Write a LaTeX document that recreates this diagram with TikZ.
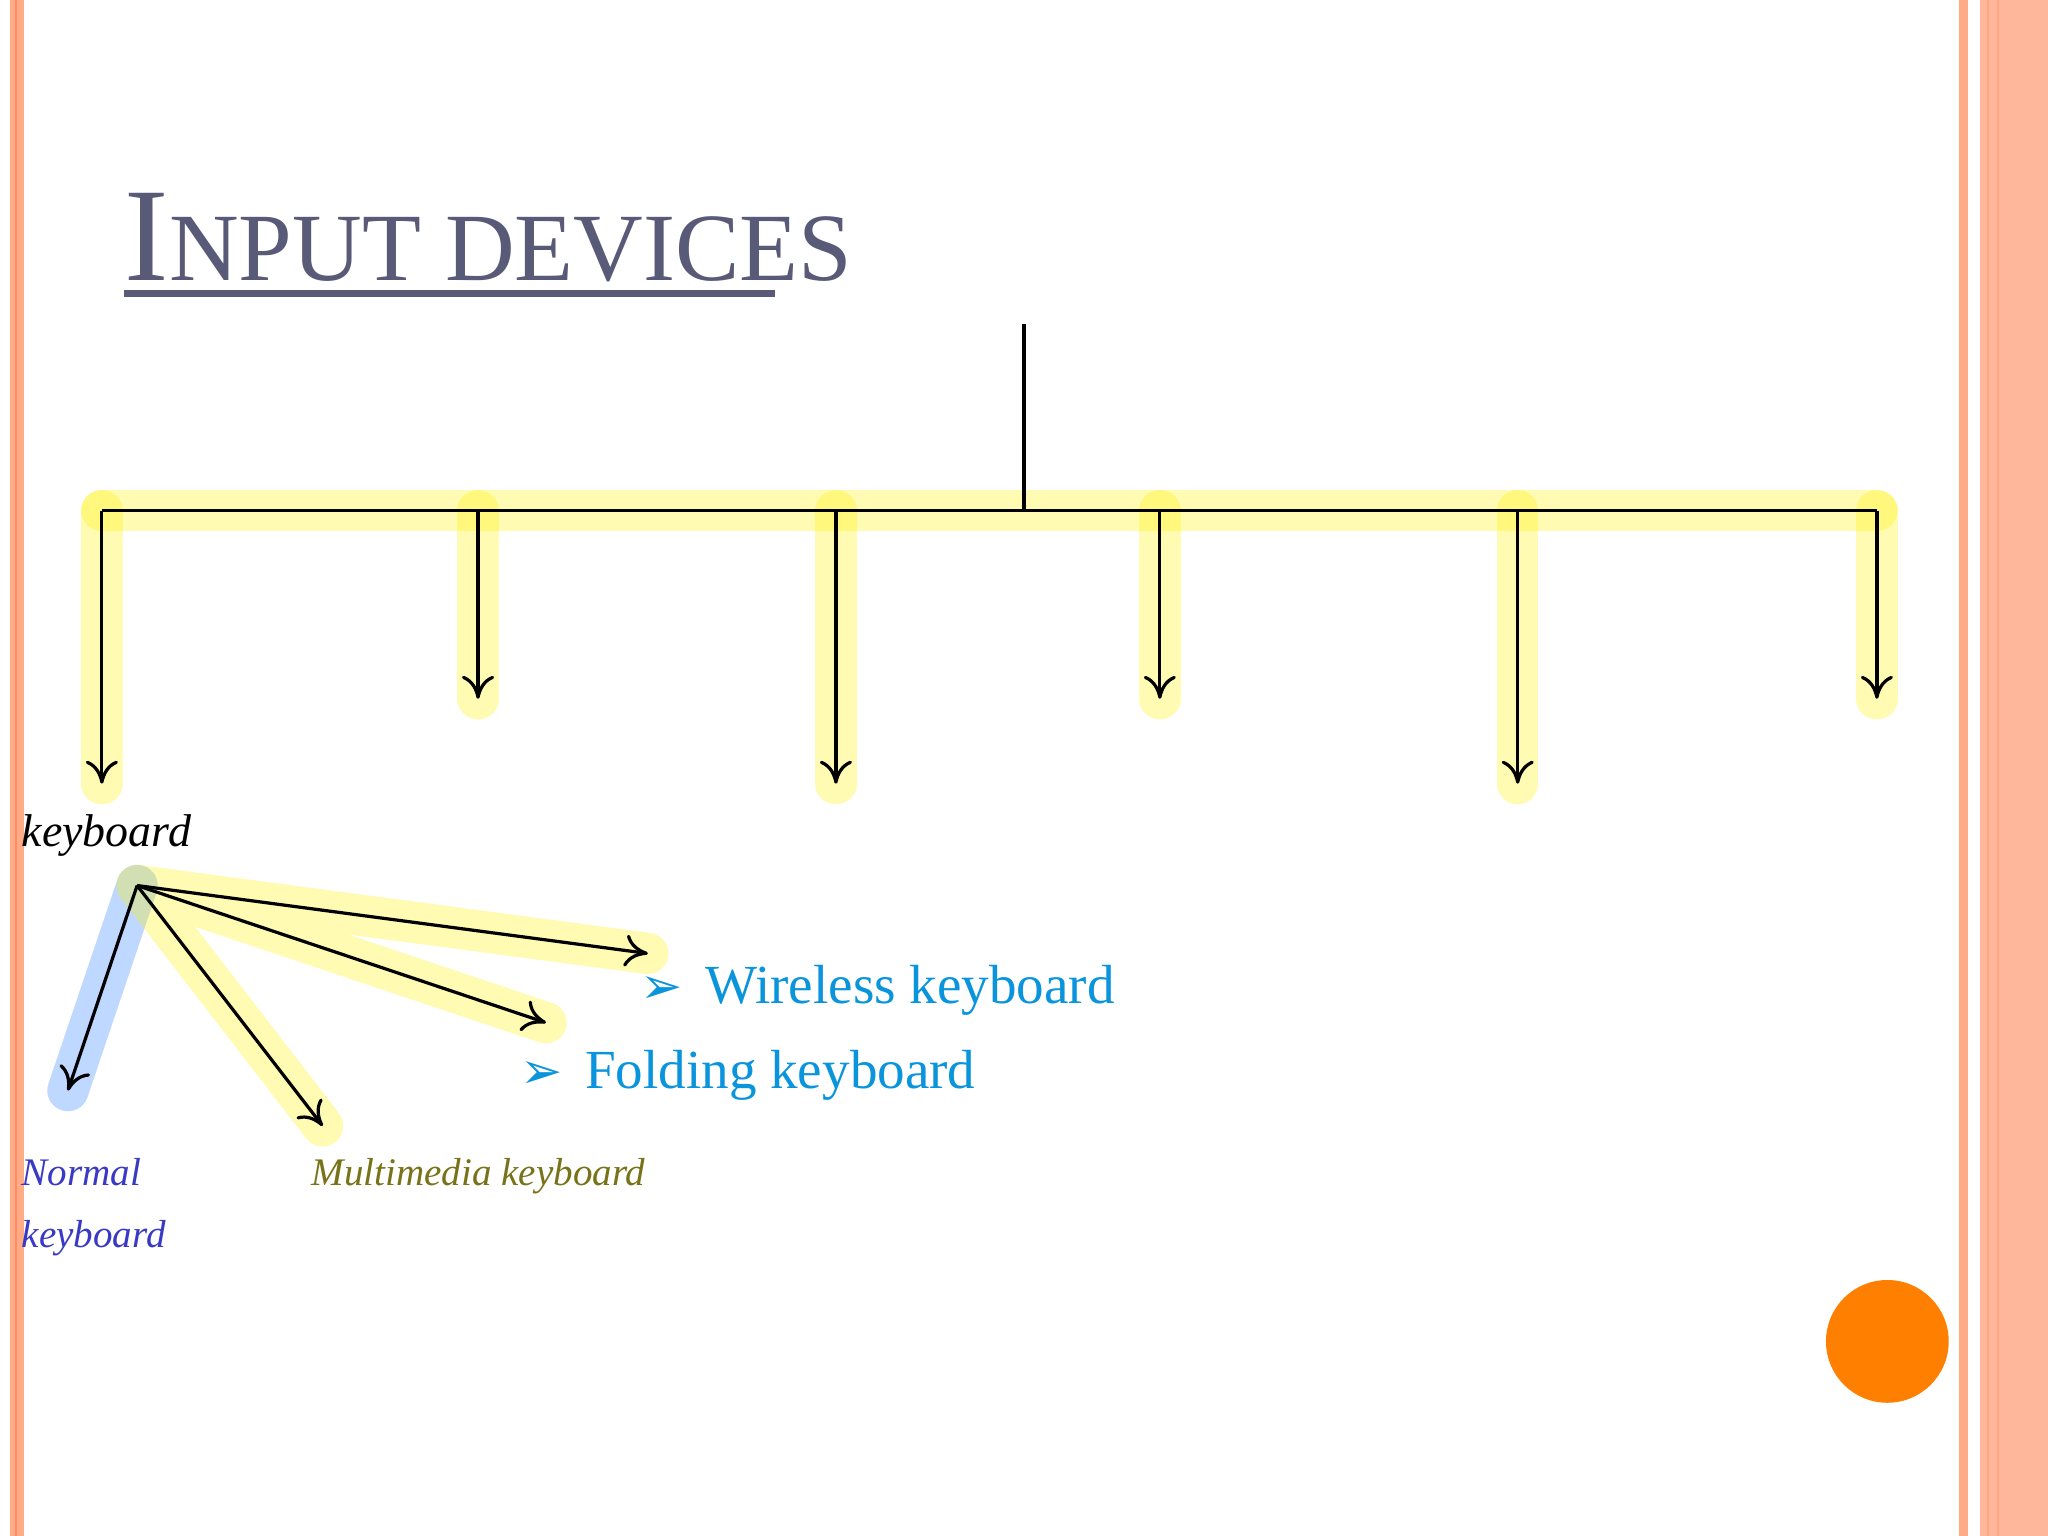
\documentclass[tikz,border=0pt]{standalone}
\usepackage{fontspec}
\usetikzlibrary{arrows.meta}
\setmainfont{Liberation Serif}
\newfontfamily\dejavu{DejaVu Sans}
\begin{document}
\begin{tikzpicture}[x=0.01cm,y=-0.01cm,
  glow/.style={line width=9pt,yellow,opacity=0.3,line cap=round},
  bluglow/.style={line width=9pt,blue!60!cyan,opacity=0.25,line cap=round},
  arr/.style={-{To[length=5pt,width=7pt]},black,line width=0.7pt},
  cy/.style={text=cyan!80!blue,font=\fontsize{12}{14}\selectfont,anchor=west,inner sep=0}]
\useasboundingbox (0,0) rectangle (1568,1176);
\fill[white] (0,0) rectangle (1568,1176);
% borders
\fill[orange!30!pink] (8,0) rectangle (18,1176);
\draw[orange!50!red!60,line width=0.4pt] (12,0)--(12,1176);
\fill[orange!30!pink] (1500,0) rectangle (1507,1176);
\fill[orange!25!pink!90] (1516,0) rectangle (1568,1176);
\draw[orange!60!red!50,line width=0.4pt] (1522,0)--(1522,1176) (1530,0)--(1530,1176);
% title
\node[anchor=base west,inner sep=0,text=black!60!blue!30!gray] (title) at (95,215) {\fontsize{29}{34}\selectfont I\fontsize{21}{34}\selectfont NPUT DEVICES};
\draw[black!60!blue!30!gray,line width=1.5pt] (95,225)--(593,225);
% glow
\draw[glow] (78,391)--(1437,391);
\foreach \x/\y in {78/600,366/535,640/600,888/535,1162/600,1437/535} \draw[glow] (\x,391)--(\x,\y);
\coordinate (top) at (784,248);
\coordinate (mid) at (784,391);
\coordinate (L) at (78,391);
\coordinate (R) at (1437,391);
\draw[line width=0.7pt] (top)--(mid) (L)--(R);
\foreach \x/\y [count=\i] in {78/600,366/535,640/600,888/535,1162/600,1437/535} {
  \coordinate (s\i) at (\x,391); \coordinate (e\i) at (\x,\y);
  \draw[arr] (s\i)--(e\i);}
% keyboard
\node[anchor=base west,inner sep=0,font=\fontsize{10}{12}\selectfont\itshape] (kb) at (16,648) {keyboard};
\coordinate (k) at (105,678);
\coordinate (n) at (52,835);
\coordinate (m) at (247,862);
\coordinate (f) at (418,783);
\coordinate (w) at (496,730);
\draw[bluglow] (k)--(n);
\draw[glow] (k)--(m) (k)--(f) (k)--(w);
\draw[arr] (k)--(n);
\draw[arr] (k)--(m);
\draw[arr] (k)--(f);
\draw[arr] (k)--(w);
\node[cy] (wl) at (490,758) {{\dejavu\fontsize{11}{13}\selectfont ➢}\hspace{0.4em}Wireless keyboard};
\node[cy] (fl) at (398,823) {{\dejavu\fontsize{11}{13}\selectfont ➢}\hspace{0.4em}Folding keyboard};
\node[anchor=base west,inner sep=0,text=blue!55!gray,font=\fontsize{8.5}{13.5}\selectfont\itshape,align=left] (nk) at (16,955) {Normal\\keyboard};
\node[anchor=base west,inner sep=0,text=olive!80!black,font=\fontsize{8.5}{12}\selectfont\itshape] (mk) at (238,908) {Multimedia keyboard};
\fill[orange!75!red!80!yellow] (1445,1027) circle (47);
\end{tikzpicture}
\end{document}
